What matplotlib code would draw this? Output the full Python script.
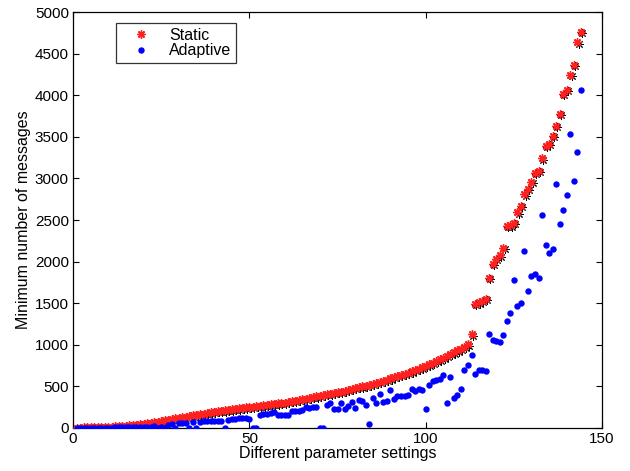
import matplotlib
matplotlib.use("Agg")
import matplotlib.pyplot as plt
import matplotlib.transforms as mtransforms
import numpy as np

plt.rcParams['font.family'] = ['Liberation Sans', 'DejaVu Sans']

# --- data (one point per parameter setting) ---
settings = list(range(1, 145))

static_msgs = [
    4, 5, 6, 7, 8, 9, 10, 12, 14, 16,
    18, 20, 23, 26, 29, 32, 36, 40, 46, 52,
    58, 64, 70, 76, 84, 92, 100, 108, 116, 124,
    130, 136, 144, 152, 160, 170, 174, 180, 188, 196,
    202, 206, 212, 218, 224, 230, 236, 242, 248, 254,
    258, 262, 266, 272, 278, 284, 290, 296, 302, 306,
    314, 322, 330, 338, 346, 354, 362, 372, 380, 390,
    398, 406, 414, 422, 430, 438, 447, 456, 466, 480,
    490, 500, 510, 520, 532, 544, 556, 568, 582, 596,
    610, 622, 636, 650, 664, 680, 696, 712, 728, 746,
    766, 786, 806, 826, 846, 866, 888, 910, 932, 954,
    978, 1004, 1124, 1490, 1510, 1530, 1556, 1808, 1976, 2036,
    2076, 2168, 2428, 2436, 2464, 2592, 2668, 2808, 2872, 2956,
    3064, 3092, 3240, 3392, 3412, 3508, 3628, 3780, 4020, 4068,
    4240, 4364, 4636, 4760,
]

adaptive_msgs = [
    2, 2, 3, 3, 3, 4, 4, 4, 5, 5,
    5, 6, 6, 6, 7, 7, 8, 8, 8, 9,
    9, 10, 24, 0, 10, 0, 36, 48, 0, 60,
    64, 60, 0, 76, 0, 72, 80, 84, 84, 84,
    80, 88, 0, 96, 104, 112, 120, 120, 124, 110,
    0, 0, 156, 166, 172, 180, 188, 156, 152, 156,
    160, 208, 208, 208, 216, 248, 244, 248, 248, 0,
    0, 276, 296, 228, 228, 296, 228, 264, 316, 244,
    336, 328, 280, 44, 364, 304, 404, 316, 324, 452,
    344, 390, 390, 390, 392, 464, 444, 464, 460, 232,
    516, 568, 576, 588, 636, 304, 616, 356, 392, 464,
    696, 752, 872, 652, 700, 700, 690, 1124, 1052, 1044,
    1036, 1120, 1292, 1388, 1776, 1464, 1504, 2128, 1644, 1824,
    1848, 1808, 2556, 2196, 2108, 2156, 2936, 2456, 2624, 2796,
    3532, 2968, 3312, 4060,
]

xticks = [0, 50, 100, 150]
yticks = list(range(0, 5001, 500))

fig = plt.figure(figsize=(6.30, 4.71), dpi=100)
ax = fig.add_axes([0.1159, 0.0913, 0.8397, 0.8832])

# matlab-style asterisk (+ and x combined)
star = (8, 2, 0)

# black dotted "shadow" under the red stars, like in the exported original
shadow = mtransforms.offset_copy(ax.transData, fig=fig, x=0.9, y=-0.9, units='points')
ax.plot(settings, static_msgs, linestyle='none', marker=star, markersize=6,
        color='black', markeredgewidth=0.7, transform=shadow, zorder=2)
ax.plot(settings, static_msgs, linestyle='none', marker=star, markersize=6,
        color='#ff2020', markeredgewidth=1.0, label='Static', zorder=3)
ax.plot(settings, adaptive_msgs, linestyle='none', marker='o', markersize=4.6,
        color='#0000ff', markeredgewidth=0, label='Adaptive', zorder=4)

# --- axes formatting (matlab look) ---
ax.set_xlim(0, 150)
ax.set_ylim(0, 5000)
ax.set_xticks(xticks)
ax.set_yticks(yticks)
ax.tick_params(direction='in', length=4, width=0.8, labelsize=11,
               top=True, right=True, pad=3)
for sp in ax.spines.values():
    sp.set_linewidth(0.9)
ax.set_xlabel("Different parameter settings", fontsize=11.5, labelpad=0)
ax.set_ylabel("Minimum number of messages", fontsize=11.5, labelpad=3)

leg = ax.legend(loc='upper left', bbox_to_anchor=(0.081, 0.974), fontsize=11.5,
                frameon=True, fancybox=False, edgecolor='black',
                handlelength=2.5, handletextpad=0.55, borderpad=0.3,
                labelspacing=0.05, numpoints=1, borderaxespad=0)
leg.get_frame().set_linewidth(0.9)

fig.savefig("out.png", dpi=100)
